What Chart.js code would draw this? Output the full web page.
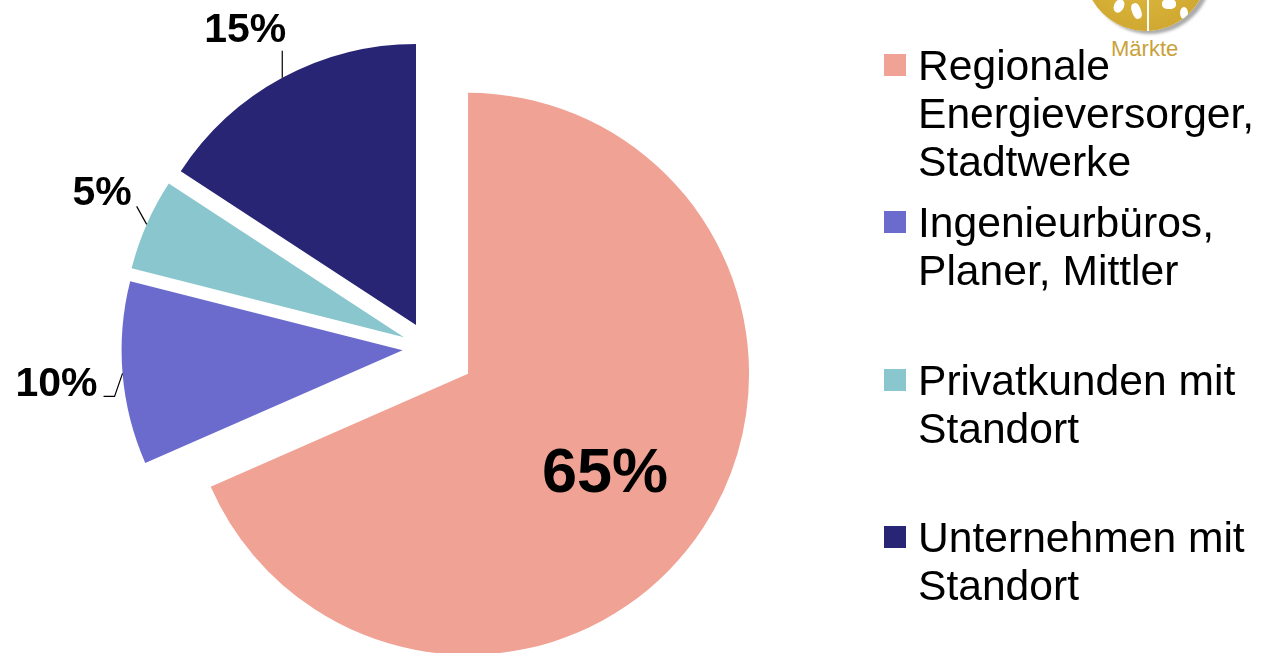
<!DOCTYPE html>
<html>
<head>
<meta charset="utf-8">
<script src="https://cdn.jsdelivr.net/npm/chart.js@4.4.1/dist/chart.umd.min.js"></script>
<style>
  html, body { margin: 0; padding: 0; background: #ffffff; }
  #wrap { position: relative; width: 1270px; height: 653px; overflow: hidden;
          font-family: "Liberation Sans", Arial, sans-serif; }
  #c { position: absolute; left: 0; top: 0; }
  #legend { position: absolute; left: 0; top: 0; }
  .item { position: absolute; left: 884px; }
  .sw { position: absolute; left: 0; width: 22px; height: 22px; top: 13px; }
  .txt { position: absolute; left: 34px; white-space: nowrap; font-size: 42.6px;
         line-height: 48px; color: #000; }
  #logo { position: absolute; left: 1084px; top: -93px; width: 124px; height: 124px;
          border-radius: 50%; background: radial-gradient(circle at 45% 40%, #e2bd45 0%, #d4ad35 60%, #c99f2c 100%);
          box-shadow: 4px 3px 3px rgba(150,150,150,0.8); overflow: hidden; }
  .w { position: absolute; background: #fff; }
  #mk { position: absolute; left: 1111px; top: 37px; font-size: 22px; line-height: 24px;
        color: #c9a13a; }
</style>
</head>
<body>
<div id="wrap">
  <div id="logo">
    <div class="w" style="left:63px;top:60px;width:2px;height:64px;"></div>
    <div class="w" style="left:30px;top:92px;width:10px;height:14px;border-radius:50%;transform:rotate(25deg);"></div>
    <div class="w" style="left:48px;top:96px;width:9px;height:16px;border-radius:40%;transform:rotate(-20deg);"></div>
    <div class="w" style="left:78px;top:92px;width:14px;height:10px;border-radius:40%;"></div>
    <div class="w" style="left:96px;top:100px;width:8px;height:12px;border-radius:50%;"></div>
  </div>
  <div id="mk">Märkte</div>
  <canvas id="c" width="1270" height="653"></canvas>
  <div id="legend"></div>
</div>
<script>
// ---- data ----
const categories = [
  ["Regionale", "Energieversorger,", "Stadtwerke"],
  ["Ingenieurbüros,", "Planer, Mittler"],
  ["Privatkunden mit", "Standort"],
  ["Unternehmen mit", "Standort"]
];
const shareValues = [65, 10, 5, 15];
const sliceColors = ["#f0a294", "#6b6bcd", "#8ac6cd", "#282674"];
const sliceOffsets = [189, 104, 107, 105];
const PIE_RADIUS = 281;

// keep every exploded slice at the same drawn radius and its true angles
// (Chart.js enlarges offset arcs and trims their angles to compensate)
const equalRadius = {
  id: 'equalRadius',
  afterDatasetUpdate(chart, args) {
    args.meta.data.forEach(arc => {
      const off = (arc.options.offset || 0) / 4;
      const fix = 1 - Math.sin(Math.min(Math.PI, arc.circumference || 0));
      const ro = off * fix;
      arc.outerRadius = PIE_RADIUS - ro;
      const a = ro / (2 * Math.PI * PIE_RADIUS);
      arc.startAngle -= a;
      arc.endAngle += a;
    });
  }
};

// per-slice label layout (relative to the outer mid point of the slice)
const labelLayout = [
  { inside: true, frac: 0.595, size: 63, dx: -3, dy: 4 },
  { size: 41, line: [[-8, 23], [-19, 23]], tx: -25, ty: 8, align: 'right' },
  { size: 41, line: [[-10, -18]], tx: -15, ty: -34, align: 'right' },
  { size: 41, line: [[0, -27]], tx: 4, ty: -50, align: 'right' }
];

const sliceLabels = {
  id: 'sliceLabels',
  afterDatasetsDraw(chart) {
    const ctx = chart.ctx;
    const meta = chart.getDatasetMeta(0);
    const vals = chart.data.datasets[0].data;
    meta.data.forEach((arc, i) => {
      const L = labelLayout[i];
      const mid = (arc.startAngle + arc.endAngle) / 2;
      const off = (arc.options.offset || 0) / 4;
      const r = PIE_RADIUS;
      const cx = arc.x + Math.cos(mid) * off;
      const cy = arc.y + Math.sin(mid) * off;
      const text = vals[i] + '%';
      ctx.save();
      ctx.fillStyle = '#000';
      ctx.font = 'bold ' + L.size + 'px "Liberation Sans", Arial, sans-serif';
      ctx.textBaseline = 'alphabetic';
      if (L.inside) {
        const px = cx + Math.cos(mid) * r * L.frac + L.dx;
        const py = cy + Math.sin(mid) * r * L.frac + L.dy;
        ctx.textAlign = 'center';
        ctx.fillText(text, px, py + 0.358 * L.size);
      } else {
        const ex = cx + Math.cos(mid) * r;
        const ey = cy + Math.sin(mid) * r;
        ctx.strokeStyle = '#000';
        ctx.lineWidth = 1.2;
        ctx.beginPath();
        ctx.moveTo(ex, ey);
        L.line.forEach(p => ctx.lineTo(ex + p[0], ey + p[1]));
        ctx.stroke();
        ctx.textAlign = L.align;
        ctx.fillText(text, ex + L.tx, ey + L.ty + 0.358 * L.size);
      }
      ctx.restore();
    });
  }
};

const chart = new Chart(document.getElementById('c'), {
  type: 'pie',
  data: {
    labels: categories,
    datasets: [{
      data: shareValues,
      backgroundColor: sliceColors,
      borderWidth: 0,
      offset: sliceOffsets,
      hoverOffset: 0,
      radius: PIE_RADIUS
    }]
  },
  options: {
    responsive: false,
    animation: false,
    events: [],
    layout: { padding: { left: 0, right: 413, top: 43, bottom: 0 } },
    plugins: { legend: { display: false }, tooltip: { enabled: false } }
  },
  plugins: [equalRadius, sliceLabels]
});

// HTML legend built from the chart's own labels and colours
(function buildLegend() {
  const host = document.getElementById('legend');
  const tops = [41, 198, 356, 513];
  chart.data.labels.forEach((lines, i) => {
    const item = document.createElement('div');
    item.className = 'item';
    item.style.top = tops[i] + 'px';
    const sw = document.createElement('div');
    sw.className = 'sw';
    sw.style.background = chart.data.datasets[0].backgroundColor[i];
    const tx = document.createElement('div');
    tx.className = 'txt';
    tx.innerHTML = lines.join('<br>');
    item.appendChild(sw);
    item.appendChild(tx);
    host.appendChild(item);
  });
})();
</script>
</body>
</html>
